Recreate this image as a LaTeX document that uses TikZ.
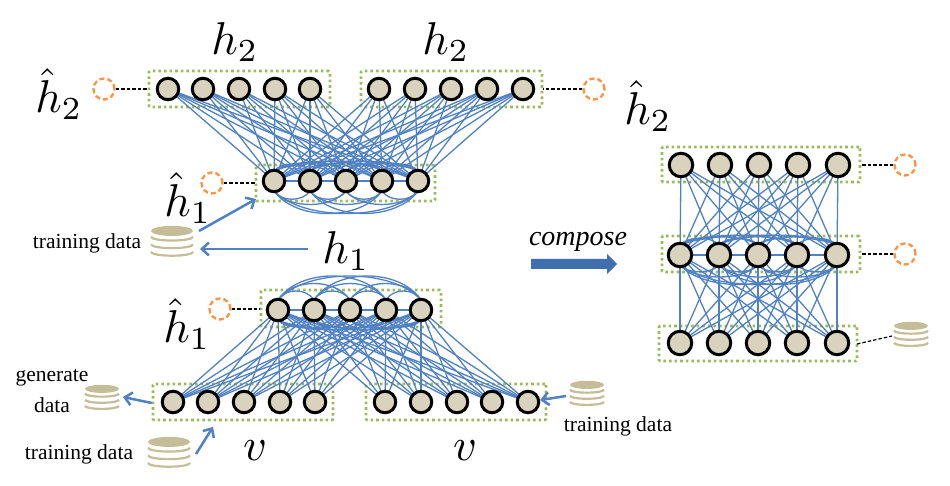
\documentclass[tikz,border=0pt]{standalone}
\usepackage{graphicx}
\usepackage{fontspec}
\setmainfont{Liberation Serif}
\usetikzlibrary{arrows.meta,calc}
\definecolor{edgeblue}{HTML}{4F81C4}
\definecolor{boxgreen}{HTML}{9BBB59}
\definecolor{unitfill}{HTML}{D9D3BD}
\definecolor{discfill}{HTML}{C4BD97}
\definecolor{ringorange}{HTML}{F79646}
\definecolor{blockblue}{HTML}{3F6FAE}
\tikzset{
  x=1pt,y=-1pt,
  unit/.style={circle,draw=black,line width=3pt,fill=unitfill,minimum size=21.5pt,inner sep=0pt},
  bigunit/.style={unit,minimum size=23.5pt},
  layerbox/.style={draw=boxgreen,line width=2.6pt,dash pattern=on 2.6pt off 3pt,rounded corners=1pt,inner sep=0pt},
  ring/.style={circle,draw=ringorange,line width=2.4pt,dash pattern=on 5pt off 3pt,minimum size=21pt,inner sep=0pt},
  tie/.style={draw=black,line width=1.2pt,dash pattern=on 3.5pt off 2pt},
  link/.style={draw=edgeblue,line width=1.3pt},
  chain/.style={draw=edgeblue,line width=1.7pt},
  flow/.style={draw=edgeblue,line width=2.5pt,-{Straight Barb[length=7pt,width=13pt,line width=2.5pt]}},
  stackspot/.style={inner sep=0pt,minimum width=#1,minimum height=#1*0.55},
  sym/.style={inner sep=0pt},
  lab/.style={inner sep=0pt,font=\fontsize{21.5}{21.5}\selectfont},
}
\newcommand{\bigsym}[1]{\scalebox{4.6}{$#1$}}
% name, x, y, half width
\newcommand{\datastack}[4]{%
  \node[stackspot=#4*2pt] (#1) at (#2,#3) {};
  \fill[discfill] (#2,#3-#4*0.48) ellipse [x radius=#4,y radius=#4*0.24];
  \foreach \k in {0.0,0.36,0.72}{
    \draw[discfill,line width=2.2pt] (#2-#4,#3+#4*\k-#4*0.2) arc[start angle=180,end angle=360,x radius=#4,y radius=-#4*0.18];
  }
}
% layer maker: prefix, y, five x values
\newcommand{\layer}[7]{%
  \coordinate (#1c1) at (#3,#2);\coordinate (#1c2) at (#4,#2);\coordinate (#1c3) at (#5,#2);\coordinate (#1c4) at (#6,#2);\coordinate (#1c5) at (#7,#2);
}
\newcommand{\unitsof}[2]{\foreach \i in {1,...,5}{\node[#2] (#1\i) at (#1c\i) {};}}
\newcommand{\fan}[2]{\foreach \i in {1,...,5}{\foreach \j in {1,...,5}{\draw[link] (#1c\i) -- (#2c\j);}}}
\newcommand{\chainof}[1]{\foreach \i/\j in {1/2,2/3,3/4,4/5}{\draw[chain] (#1c\i) -- (#1c\j);}}
% arcs: layer, direction (+1 below,-1 above), gains
\newcommand{\arcsof}[5]{%
  \foreach \i/\j/\d in {1/2/#3,2/3/#3,3/4/#3,4/5/#3,1/3/#4,2/4/#4,3/5/#4,1/4/#5,2/5/#5,1/5/#5}{
    \draw[link] ($(#1c\i)+(0,#2*10)$) .. controls ($(#1c\i)!0.2!(#1c\j)+(0,#2*10+#2*\d)$) and ($(#1c\i)!0.8!(#1c\j)+(0,#2*10+#2*\d)$) .. ($(#1c\j)+(0,#2*10)$);
  }
}
\begin{document}
\begin{tikzpicture}
\useasboundingbox (0,0) rectangle (950,486);
\layer{a}{89}{168}{203}{239}{275}{310}
\layer{b}{89}{379}{415}{451}{487}{523}
\layer{c}{181}{274}{310}{346}{382}{418}
\layer{d}{310}{278}{314}{350}{386}{421}
\layer{e}{402}{173}{208}{244}{280}{315}
\layer{f}{402}{385}{421}{457}{492}{528}
\layer{g}{165}{681}{720}{759}{798}{838}
\layer{h}{255}{680}{719}{758}{797}{837}
\layer{i}{343}{680}{719}{758}{797}{837}
% layer boxes
\node[layerbox,minimum width=181pt,minimum height=36pt] (boxa) at (239.5,89) {};
\node[layerbox,minimum width=181pt,minimum height=36pt] (boxb) at (451.5,89) {};
\node[layerbox,minimum width=179pt,minimum height=36pt] (boxc) at (345.5,183) {};
\node[layerbox,minimum width=180pt,minimum height=37pt] (boxd) at (351,308.5) {};
\node[layerbox,minimum width=180pt,minimum height=36pt] (boxe) at (243,402) {};
\node[layerbox,minimum width=180pt,minimum height=36pt] (boxf) at (456,402) {};
\node[layerbox,minimum width=198pt,minimum height=35pt] (boxg) at (761,164.5) {};
\node[layerbox,minimum width=198pt,minimum height=36pt] (boxh) at (761,254) {};
\node[layerbox,minimum width=198pt,minimum height=35pt] (boxi) at (758,343.5) {};
% connections
\fan{a}{c}\fan{b}{c}\fan{d}{e}\fan{d}{f}\fan{g}{h}\fan{h}{i}
\chainof{c}\chainof{d}\chainof{h}
\arcsof{c}{1}{11}{18}{30}
\arcsof{c}{-1}{9}{11}{13}
\arcsof{d}{-1}{12}{22}{32}
\arcsof{d}{1}{9}{11}{13}
\arcsof{h}{-1}{9}{11}{13}
\arcsof{h}{1}{9}{16}{26}
% units
\unitsof{a}{unit}\unitsof{b}{unit}\unitsof{c}{unit}\unitsof{d}{unit}\unitsof{e}{unit}\unitsof{f}{unit}\unitsof{g}{bigunit}\unitsof{h}{bigunit}\unitsof{i}{bigunit}
% hidden units
\node[ring] (ra) at (104,89) {};
\node[ring] (rb) at (594,89) {};
\node[ring] (rc) at (212,183) {};
\node[ring] (rd) at (220,309) {};
\node[ring] (rg) at (905,165) {};
\node[ring] (rh) at (905,254) {};
\draw[tie] (ra) -- (boxa.west |- ra);
\draw[tie] (rb) -- (boxb.east |- rb);
\draw[tie] (rc) -- (boxc.west |- rc);
\draw[tie] (rd) -- (boxd.west |- rd);
\draw[tie] (rg) -- (boxg.east |- rg);
\draw[tie] (rh) -- (boxh.east |- rh);
% data stacks
\datastack{sa}{172}{241}{21}
\datastack{sb}{102}{397}{17}
\datastack{sc}{169}{452}{21}
\datastack{sd}{587}{393}{17}
\datastack{si}{911}{334}{17}
\coordinate (tiestart) at (857,344);
\coordinate (tieend) at (892,336);
\draw[tie] (tiestart) -- (tieend);
% labels
\node[sym] (h2a) at (235,42) {\bigsym{h_2}};
\node[sym] (h2b) at (446,42) {\bigsym{h_2}};
\node[sym] (hh2a) at (59,94) {\bigsym{\hat{h}_2}};
\node[sym] (hh1a) at (188,198) {\bigsym{\hat{h}_1}};
\node[sym] (h1m) at (346,251) {\bigsym{h_1}};
\node[sym] (hh1b) at (187,324) {\bigsym{\hat{h}_1}};
\node[sym] (hh2b) at (648,106) {\bigsym{\hat{h}_2}};
\node[sym] (va) at (255,451) {\bigsym{v}};
\node[sym] (vb) at (465,451) {\bigsym{v}};
\node[lab] (ta) at (87,243) {training data};
\node[lab] (tb) at (79,454) {training data};
\node[lab] (tc) at (618,426) {training data};
\node[lab] (ga) at (52,378) {generate};
\node[lab] (gb) at (52,405) {data};
\node[inner sep=0pt,font=\fontsize{28}{28}\selectfont\itshape] (comp) at (578,242) {compose};
% arrows
\coordinate (fromsa) at (199,231);
\coordinate (tobc) at (256,199);
\coordinate (frommid) at (308,249);
\coordinate (tosa) at (200,249);
\coordinate (fromsc) at (196,454);
\coordinate (tobe) at (213,427);
\coordinate (fromsd) at (566,396);
\coordinate (togen) at (123,397);
\draw[flow] (fromsa) -- (tobc);
\draw[flow] (frommid) -- (tosa);
\draw[flow] (boxe.west |- 0,403) -- (togen);
\draw[flow] (fromsc) -- (tobe);
\draw[flow] (fromsd) -- (f5);
\fill[blockblue] (531,259) -- (607,259) -- (607,254) -- (617,264) -- (607,274) -- (607,269) -- (531,269) -- cycle;
\end{tikzpicture}
\end{document}
